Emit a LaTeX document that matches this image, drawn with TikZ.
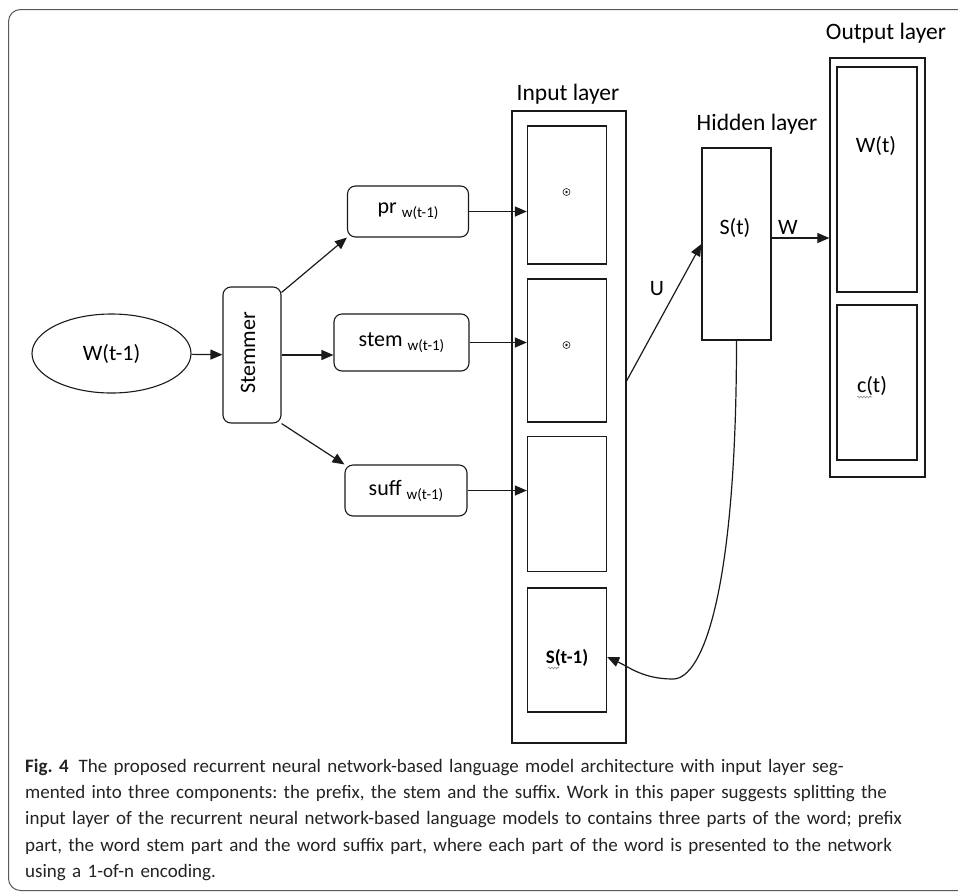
\documentclass[tikz,border=0pt]{standalone}
\usepackage{fontspec}
\setmainfont{Carlito}
\usepackage{tikz}
\usetikzlibrary{arrows.meta,positioning,shapes.geometric,calc,decorations.pathmorphing}
\definecolor{inkline}{HTML}{1A1A1A}
\definecolor{framegray}{HTML}{5A5A5A}
\definecolor{captink}{HTML}{232323}
\definecolor{squig}{HTML}{8C8C8C}
\newcommand{\wsub}{\raisebox{-4pt}{\fontsize{15}{15}\selectfont w(t-1)}}
\frenchspacing
\tikzset{
  rbox/.style={draw=inkline,line width=1.1pt,rounded corners=8pt,inner sep=0pt,font=\fontsize{22}{26}\selectfont},
  layer/.style={draw=inkline,line width=1.3pt,inner sep=0pt},
  ltitle/.style={font=\fontsize{23.5}{27}\selectfont,inner sep=0pt},
  ltext/.style={font=\fontsize{22}{26}\selectfont,inner sep=0pt},
  dotring/.style={circle,draw=inkline,line width=0.6pt,minimum size=7pt,inner sep=0pt},
  varr/.style={-{Triangle[length=12pt,width=10pt]},line width=1.2pt,draw=inkline},
  vline/.style={line width=1.2pt,draw=inkline},
  wavy/.style={draw=squig,line width=0.6pt,decorate,decoration={snake,amplitude=0.9pt,segment length=3pt}},
  framebox/.style={draw=framegray,line width=1pt,rounded corners=12pt}
}

\begin{document}
\begin{tikzpicture}[x=1pt,y=-1pt]
  \useasboundingbox (0,0) rectangle (958,892);
  \clip (0,0) rectangle (958,892);
  \draw[framebox] (8.5,9.5) rectangle (975,890.5);

  \node[ellipse,draw=inkline,line width=1.1pt,inner sep=0pt,minimum width=159pt,minimum height=79pt,font=\fontsize{22}{26}\selectfont] (wprev) at (111.5,353.5) {W(t-1)};
  \node[rbox,minimum width=58pt,minimum height=136pt] (stemmer) at (252,355) {};
  \node[ltext,rotate=90] (stemtxt) at (248,353) {Stemmer};
  \node[rbox,minimum width=121pt,minimum height=51pt] (pr) at (408,211.5) {pr \wsub};
  \node[rbox,minimum width=135pt,minimum height=57pt] (stem) at (401.5,342.5) {stem \wsub};
  \node[rbox,minimum width=122pt,minimum height=51pt] (suff) at (406,490.5) {suff \wsub};

  \node[layer,minimum width=114pt,minimum height=632pt] (inp) at (569,427) {};
  \node[layer,minimum width=79pt,minimum height=138pt] (in1) at (567,195) {};
  \node[layer,minimum width=79pt,minimum height=143pt] (in2) at (567,350.5) {};
  \node[layer,minimum width=79pt,minimum height=135pt] (in3) at (567,504) {};
  \node[layer,minimum width=79pt,minimum height=124pt] (in4) at (567,650) {};
  \node[ltitle] (inptitle) at (568,94) {Input layer};
  \node[dotring] (ring1) at (566.5,192) {};
  \node[dotring] (ring2) at (566.5,345) {};
  \fill[inkline] (ring1) circle (1.4pt) (ring2) circle (1.4pt);
  \node[font=\fontsize{19}{22}\selectfont\bfseries,inner sep=0pt] (sprev) at (567,658) {S(t-1)};

  \node[layer,minimum width=69pt,minimum height=192pt] (hid) at (736.5,244) {};
  \node[ltitle] (hidtitle) at (757,124) {Hidden layer};
  \node[ltext] (stxt) at (735,228) {S(t)};

  \node[layer,minimum width=95pt,minimum height=419pt] (outl) at (877.5,267.5) {};
  \node[layer,minimum width=80pt,minimum height=225pt] (out1) at (877,179.5) {};
  \node[layer,minimum width=80pt,minimum height=155pt] (out2) at (877,382.5) {};
  \node[ltitle] (outtitle) at (886,33) {Output layer};
  \node[ltext] (wtxt) at (876,146) {W(t)};
  \node[ltext] (ctxt) at (872,386) {c(t)};
  \draw[wavy] (857,397) -- (872,397);
  \draw[wavy] (548,668) -- (559,668);

  \draw[varr] (wprev) -- (stemmer);
  \draw[varr] ($(stemmer.north east)+(0,6)$) -- (pr.south west);
  \draw[varr] (stemmer.east) -- (stemmer.east -| stem.west);
  \draw[varr] (stemmer.south east) -- (suff.north west);
  \draw[varr] (pr.east) -- (pr.east -| in1.west);
  \draw[varr] (stem.east) -- (stem.east -| in2.west);
  \draw[varr] (suff.east) -- (suff.east -| in3.west);

  \coordinate (uout) at (626,382);
  \draw[varr] (uout) -- (hid.west);
  \node[ltext] (ulabel) at (657,289) {U};
  \coordinate (wout) at ($(hid.east)+(0,-6)$);
  \draw[varr] (wout) -- (wout -| outl.west);
  \node[ltext] (wlabel) at (788,227) {W};

  \coordinate (lowpt) at (673,679);
  \coordinate (s4in) at ($(in4.east)+(0,7)$);
  \draw[varr] (hid.south) .. controls +(0,250) and +(30,0) .. (lowpt)
    .. controls +(-30,0) and +(22,10) .. (s4in);

  \node[anchor=north west,inner sep=0pt,text width=945pt,align=left,text=captink,
        font=\fontsize{19}{26.2}\selectfont] (caption) at (25,759)
    {\textbf{Fig. 4}\hspace{10pt}The proposed recurrent neural network-based language model architecture with input layer seg-\\
     mented into three components: the prefix, the stem and the suffix. Work in this paper suggests splitting the\\
     input layer of the recurrent neural network-based language models to contains three parts of the word; prefix\\
     part, the word stem part and the word suffix part, where each part of the word is presented to the network\\
     using a 1-of-n encoding.};
\end{tikzpicture}
\end{document}
